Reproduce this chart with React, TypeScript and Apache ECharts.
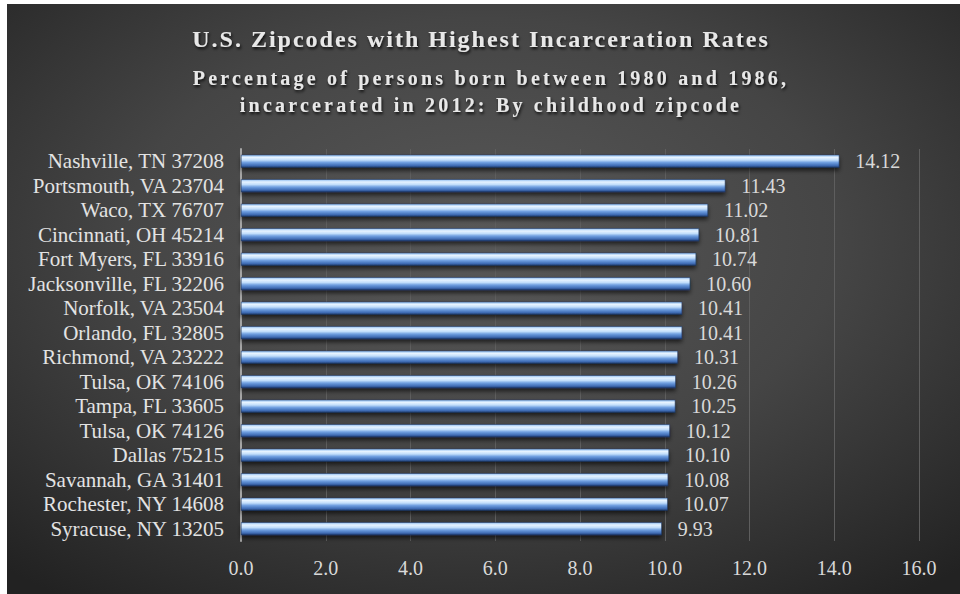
import React, { useEffect, useRef } from "react";
import * as echarts from "echarts";

const categories = [
  "Nashville, TN 37208",
  "Portsmouth, VA 23704",
  "Waco, TX 76707",
  "Cincinnati, OH 45214",
  "Fort Myers, FL 33916",
  "Jacksonville, FL 32206",
  "Norfolk, VA 23504",
  "Orlando, FL 32805",
  "Richmond, VA 23222",
  "Tulsa, OK 74106",
  "Tampa, FL 33605",
  "Tulsa, OK 74126",
  "Dallas 75215",
  "Savannah, GA 31401",
  "Rochester, NY 14608",
  "Syracuse, NY 13205",
];
const values = [14.12, 11.43, 11.02, 10.81, 10.74, 10.6, 10.41, 10.41, 10.31, 10.26, 10.25, 10.12, 10.1, 10.08, 10.07, 9.93];

const titleText = "U.S. Zipcodes with Highest Incarceration Rates";
const subtitleLines = ["Percentage of persons born between 1980 and 1986,", "incarcerated in 2012: By childhood zipcode"];

const FONT = "'Liberation Serif', 'Times New Roman', serif";

export default function App() {
  const ref = useRef<HTMLDivElement>(null);
  useEffect(() => {
    document.body.style.margin = "0";
    const chart = echarts.init(ref.current!, null, { renderer: "svg", width: 960, height: 594 });
    const textShadow = { textShadowColor: "rgba(0,0,0,0.85)", textShadowBlur: 3, textShadowOffsetX: 1, textShadowOffsetY: 2 };
    chart.setOption({
      animation: false,
      backgroundColor: "#ffffff",
      graphic: [
        {
          type: "rect",
          z: -10,
          silent: true,
          shape: { x: 7, y: 4, width: 953, height: 590 },
          style: {
            fill: {
              type: "radial",
              x: 0.5,
              y: 0.4,
              r: 0.75,
              colorStops: [
                { offset: 0, color: "#585858" },
                { offset: 0.5, color: "#454545" },
                { offset: 1, color: "#222222" },
              ],
            },
          },
        },
        {
          type: "text",
          x: 481,
          y: 39,
          style: {
            text: titleText,
            font: `bold 24px ${FONT}`,
            align: "center",
            verticalAlign: "middle",
            fill: "#e8e8e8",
            ...textShadow,
          },
        },
        {
          type: "text",
          x: 491,
          y: 78,
          style: {
            text: subtitleLines[0],
            font: `bold 20px ${FONT}`,
            align: "center",
            verticalAlign: "middle",
            fill: "#e8e8e8",
            ...textShadow,
          },
        },
        {
          type: "text",
          x: 491,
          y: 105,
          style: {
            text: subtitleLines[1],
            font: `bold 20px ${FONT}`,
            align: "center",
            verticalAlign: "middle",
            fill: "#e8e8e8",
            ...textShadow,
          },
        },
      ],
      grid: { left: 241, right: 41, top: 149, bottom: 53, containLabel: false },
      xAxis: {
        type: "value",
        min: 0,
        max: 16,
        interval: 2,
        axisLine: { show: false },
        axisTick: { show: false },
        splitLine: { show: true, lineStyle: { color: "#5e5e5e", width: 1 } },
        axisLabel: {
          formatter: (v: number) => v.toFixed(1),
          color: "#d9d9d9",
          fontFamily: FONT,
          fontSize: 20,
          margin: 17,
        },
      },
      yAxis: {
        type: "category",
        data: categories,
        inverse: true,
        axisLine: { show: true, lineStyle: { color: "#a6a6a6", width: 2 } },
        axisTick: { show: false },
        axisLabel: {
          interval: 0,
          color: "#e3e3e3",
          fontFamily: FONT,
          fontSize: 21,
          margin: 17,
        },
      },
      series: [
        {
          type: "bar",
          data: values,
          barWidth: 13,
          itemStyle: {
            color: {
              type: "linear",
              x: 0,
              y: 0,
              x2: 0,
              y2: 1,
              colorStops: [
                { offset: 0, color: "#8fbcef" },
                { offset: 0.2, color: "#e6f3ff" },
                { offset: 0.4, color: "#c2defb" },
                { offset: 0.6, color: "#6f9fe0" },
                { offset: 0.85, color: "#3e6bb3" },
                { offset: 1, color: "#1e3866" },
              ],
            },
            borderColor: "#1c3461",
            borderWidth: 0.5,
            shadowColor: "rgba(0,0,0,0.6)",
            shadowBlur: 4,
            shadowOffsetY: 3,
          },
          label: {
            show: true,
            position: "right",
            distance: 16,
            formatter: (p: any) => p.value.toFixed(2),
            color: "#d9d9d9",
            fontFamily: FONT,
            fontSize: 20,
          },
        },
      ],
    });
    const svg = ref.current!.querySelector("svg");
    if (svg) {
      svg.querySelectorAll("text").forEach((t) => {
        const s = t.textContent || "";
        if (s === titleText) t.style.letterSpacing = "2px";
        if (subtitleLines.includes(s)) t.style.letterSpacing = "3.2px";
      });
    }
    return () => chart.dispose();
  }, []);
  return <div ref={ref} style={{ width: 960, height: 594 }} />;
}
